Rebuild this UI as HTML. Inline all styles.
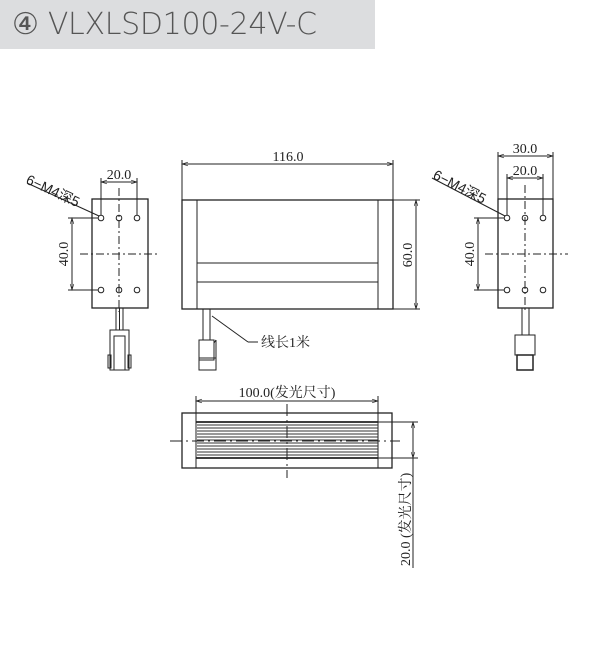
<!DOCTYPE html>
<html><head><meta charset="utf-8"><style>
body{margin:0;background:#fff;width:601px;height:649px;overflow:hidden;position:relative;font-family:"Liberation Sans","Noto Sans CJK SC",sans-serif}
.hdr{position:absolute;left:0;top:0;width:375px;height:49px;background:#dcdddf;color:#555;font-size:30px;line-height:49px;padding-left:12px;box-sizing:border-box;font-family:"DejaVu Sans","Liberation Sans",sans-serif;font-weight:300;letter-spacing:-0.3px}
</style></head><body>
<div class="hdr">④ VLXLSD100-24V-C</div>
<svg width="601" height="649" style="position:absolute;left:0;top:0" font-family="Liberation Serif, Noto Serif CJK SC, serif" font-size="14">
<defs><marker id="a" viewBox="0 0 10 10" refX="10" refY="5" markerWidth="8" markerHeight="6" orient="auto-start-reverse"><path d="M0,2 L10,5 L0,8" fill="none" stroke="#222" stroke-width="1"/></marker></defs>
<g stroke="#222" fill="none" stroke-width="1">
<!-- left view -->
<rect x="92" y="199" width="56" height="109" stroke-width="1.3"/>
<line x1="119" y1="188" x2="119" y2="312" stroke-dasharray="8,3,2,3"/>
<line x1="80" y1="254" x2="157" y2="254" stroke-dasharray="8,3,2,3"/>
<circle cx="101" cy="218" r="2.8"/><circle cx="119" cy="218" r="2.8"/><circle cx="137" cy="218" r="2.8"/>
<circle cx="101" cy="290" r="2.8"/><circle cx="119" cy="290" r="2.8"/><circle cx="137" cy="290" r="2.8"/>
<line x1="101" y1="178" x2="101" y2="215"/><line x1="137" y1="178" x2="137" y2="215"/>
<line x1="101" y1="182" x2="137" y2="182" marker-start="url(#a)" marker-end="url(#a)"/>
<line x1="68" y1="218" x2="98" y2="218"/><line x1="68" y1="290" x2="98" y2="290"/>
<line x1="72" y1="218" x2="72" y2="290" marker-start="url(#a)" marker-end="url(#a)"/>
<line x1="27" y1="183" x2="99" y2="216"/>
<rect x="116" y="308" width="7" height="22"/><line x1="119.5" y1="308" x2="119.5" y2="330"/>
<rect x="110" y="330" width="19" height="40"/><rect x="114" y="336" width="11" height="34"/>
<rect x="108" y="355" width="3" height="13"/><rect x="128" y="355" width="3" height="13"/>
<!-- middle view -->
<rect x="182" y="200" width="211" height="109" stroke-width="1.3"/>
<line x1="197" y1="200" x2="197" y2="309"/><line x1="378" y1="200" x2="378" y2="309"/>
<line x1="197" y1="263" x2="378" y2="263"/><line x1="197" y1="282" x2="378" y2="282"/>
<line x1="182" y1="160" x2="182" y2="200"/><line x1="393" y1="160" x2="393" y2="200"/>
<line x1="182" y1="164" x2="393" y2="164" marker-start="url(#a)" marker-end="url(#a)"/>
<line x1="393" y1="200" x2="420" y2="200"/><line x1="393" y1="309" x2="420" y2="309"/>
<line x1="416" y1="200" x2="416" y2="309" marker-start="url(#a)" marker-end="url(#a)"/>
<rect x="203" y="309" width="7" height="31"/>
<rect x="199" y="340" width="15" height="20"/><rect x="199" y="358" width="17" height="12"/>
<line x1="214" y1="343" x2="216" y2="340"/><line x1="216" y1="340" x2="216" y2="358"/>
<line x1="212" y1="316" x2="248" y2="342"/><line x1="248" y1="342" x2="258" y2="342"/>
<!-- right view -->
<rect x="498" y="199" width="55" height="109" stroke-width="1.3"/>
<line x1="525" y1="185" x2="525" y2="312" stroke-dasharray="8,3,2,3"/>
<line x1="485" y1="254" x2="568" y2="254" stroke-dasharray="8,3,2,3"/>
<circle cx="507" cy="218" r="2.8"/><circle cx="525" cy="218" r="2.8"/><circle cx="543" cy="218" r="2.8"/>
<circle cx="507" cy="290" r="2.8"/><circle cx="525" cy="290" r="2.8"/><circle cx="543" cy="290" r="2.8"/>
<line x1="498" y1="152" x2="498" y2="199"/><line x1="553" y1="152" x2="553" y2="199"/>
<line x1="498" y1="156" x2="553" y2="156" marker-start="url(#a)" marker-end="url(#a)"/>
<line x1="507" y1="174" x2="507" y2="215"/><line x1="543" y1="174" x2="543" y2="215"/>
<line x1="507" y1="178" x2="543" y2="178" marker-start="url(#a)" marker-end="url(#a)"/>
<line x1="474" y1="218" x2="504" y2="218"/><line x1="474" y1="290" x2="504" y2="290"/>
<line x1="478" y1="218" x2="478" y2="290" marker-start="url(#a)" marker-end="url(#a)"/>
<line x1="432" y1="178" x2="505" y2="216"/>
<rect x="522" y="308" width="7" height="27"/>
<rect x="515" y="335" width="20" height="20"/><rect x="517" y="355" width="16" height="15" stroke-width="1.5"/>
<!-- bottom view -->
<rect x="182" y="413" width="210" height="55" stroke-width="1.3"/>
<line x1="196" y1="396" x2="196" y2="468"/><line x1="378" y1="396" x2="378" y2="468"/>
<line x1="196" y1="401" x2="378" y2="401" marker-start="url(#a)" marker-end="url(#a)"/>
<line x1="196" y1="422" x2="378" y2="422" stroke-width="1.8"/>
<line x1="196" y1="458" x2="378" y2="458" stroke-width="1.8"/>
<g stroke="#333" stroke-width="0.9">
<line x1="197" y1="425" x2="378" y2="425"/><line x1="197" y1="428" x2="378" y2="428"/><line x1="197" y1="431" x2="378" y2="431"/><line x1="197" y1="434" x2="378" y2="434"/><line x1="197" y1="437" x2="378" y2="437"/><line x1="197" y1="440" x2="378" y2="440"/><line x1="197" y1="443" x2="378" y2="443"/><line x1="197" y1="446" x2="378" y2="446"/><line x1="197" y1="449" x2="378" y2="449"/><line x1="197" y1="452" x2="378" y2="452"/><line x1="197" y1="455" x2="378" y2="455"/>
</g>
<line x1="170" y1="441" x2="400" y2="441" stroke-dasharray="12,4,2,4"/>
<line x1="287" y1="404" x2="287" y2="478" stroke-dasharray="12,4,2,4"/>
<line x1="378" y1="422" x2="418" y2="422"/><line x1="378" y1="458" x2="418" y2="458"/>
<line x1="413" y1="422" x2="413" y2="458" marker-start="url(#a)" marker-end="url(#a)"/>
<line x1="413" y1="458" x2="413" y2="568"/>
</g>
<g fill="#222">
<text x="119" y="179" text-anchor="middle">20.0</text>
<text x="288" y="161" text-anchor="middle">116.0</text>
<text x="525" y="153" text-anchor="middle">30.0</text>
<text x="525" y="175" text-anchor="middle">20.0</text>
<text transform="translate(68,254) rotate(-90)" text-anchor="middle">40.0</text>
<text transform="translate(474,254) rotate(-90)" text-anchor="middle">40.0</text>
<text transform="translate(412,255) rotate(-90)" text-anchor="middle">60.0</text>
<text x="261" y="347" font-size="14">线长1米</text>
<text x="287" y="397" text-anchor="middle" font-size="14">100.0(发光尺寸)</text>
<text transform="translate(410,566) rotate(-90)" font-size="14">20.0 (发光尺寸)</text>
<text transform="translate(25,183) rotate(25)" font-family="Liberation Sans, Noto Sans CJK SC, sans-serif" font-size="14">6−M4深5</text>
<text transform="translate(432,178) rotate(27)" font-family="Liberation Sans, Noto Sans CJK SC, sans-serif" font-size="14">6−M4深5</text>
</g>
</svg>
</body></html>
